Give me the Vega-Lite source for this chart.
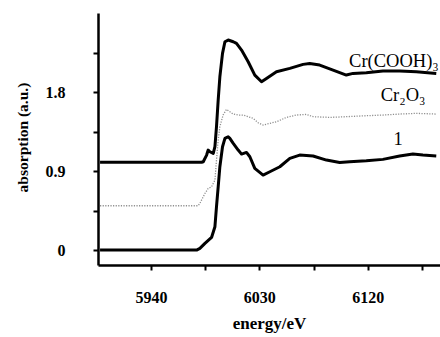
{
  "$schema": "https://vega.github.io/schema/vega-lite/v6.json",
  "width": 342,
  "height": 252,
  "autosize": {"type": "none"},
  "padding": {"left": 98, "top": 13, "right": 0, "bottom": 72},
  "background": "white",
  "config": {
    "view": {"stroke": null},
    "axis": {
      "grid": false,
      "domainColor": "black",
      "domainWidth": 2.5,
      "tickColor": "black",
      "tickWidth": 2,
      "tickSize": 5,
      "labelFont": "Liberation Serif",
      "labelFontWeight": "bold",
      "labelFontSize": 16,
      "labelColor": "black",
      "titleFont": "Liberation Serif",
      "titleFontWeight": "bold",
      "titleFontSize": 17,
      "titleColor": "black"
    }
  },
  "datasets": {
    "curves": [
      {"s": "one", "e": 5897.7, "a": 0.0},
      {"s": "one", "e": 5977.9, "a": 0.0},
      {"s": "one", "e": 5980.6, "a": 0.019},
      {"s": "one", "e": 5984.8, "a": 0.076},
      {"s": "one", "e": 5990.3, "a": 0.144},
      {"s": "one", "e": 5993.1, "a": 0.266},
      {"s": "one", "e": 5994.4, "a": 0.494},
      {"s": "one", "e": 5995.8, "a": 0.721},
      {"s": "one", "e": 5997.2, "a": 0.949},
      {"s": "one", "e": 5999.4, "a": 1.177},
      {"s": "one", "e": 6001.4, "a": 1.272},
      {"s": "one", "e": 6004.1, "a": 1.291},
      {"s": "one", "e": 6005.5, "a": 1.272},
      {"s": "one", "e": 6008.3, "a": 1.215},
      {"s": "one", "e": 6012.4, "a": 1.139},
      {"s": "one", "e": 6015.2, "a": 1.093},
      {"s": "one", "e": 6019.3, "a": 1.112},
      {"s": "one", "e": 6022.1, "a": 1.063},
      {"s": "one", "e": 6026.2, "a": 0.93},
      {"s": "one", "e": 6033.1, "a": 0.854},
      {"s": "one", "e": 6038.7, "a": 0.892},
      {"s": "one", "e": 6047.0, "a": 0.949},
      {"s": "one", "e": 6055.3, "a": 1.044},
      {"s": "one", "e": 6063.5, "a": 1.082},
      {"s": "one", "e": 6074.6, "a": 1.071},
      {"s": "one", "e": 6085.7, "a": 1.025},
      {"s": "one", "e": 6096.7, "a": 0.998},
      {"s": "one", "e": 6105.0, "a": 1.006},
      {"s": "one", "e": 6118.8, "a": 1.017},
      {"s": "one", "e": 6132.6, "a": 1.033},
      {"s": "one", "e": 6146.5, "a": 1.071},
      {"s": "one", "e": 6157.5, "a": 1.093},
      {"s": "one", "e": 6165.8, "a": 1.082},
      {"s": "one", "e": 6176.9, "a": 1.071},
      {"s": "cooh", "e": 5897.7, "a": 1.0},
      {"s": "cooh", "e": 5982.0, "a": 1.0},
      {"s": "cooh", "e": 5983.4, "a": 1.006},
      {"s": "cooh", "e": 5986.2, "a": 1.082},
      {"s": "cooh", "e": 5987.5, "a": 1.139},
      {"s": "cooh", "e": 5988.9, "a": 1.12},
      {"s": "cooh", "e": 5991.7, "a": 1.101},
      {"s": "cooh", "e": 5993.1, "a": 1.177},
      {"s": "cooh", "e": 5994.4, "a": 1.405},
      {"s": "cooh", "e": 5995.8, "a": 1.708},
      {"s": "cooh", "e": 5997.2, "a": 1.974},
      {"s": "cooh", "e": 5999.4, "a": 2.24},
      {"s": "cooh", "e": 6001.4, "a": 2.373},
      {"s": "cooh", "e": 6004.1, "a": 2.392},
      {"s": "cooh", "e": 6008.3, "a": 2.373},
      {"s": "cooh", "e": 6011.0, "a": 2.354},
      {"s": "cooh", "e": 6015.2, "a": 2.278},
      {"s": "cooh", "e": 6020.7, "a": 2.145},
      {"s": "cooh", "e": 6026.2, "a": 1.993},
      {"s": "cooh", "e": 6031.8, "a": 1.917},
      {"s": "cooh", "e": 6035.9, "a": 1.955},
      {"s": "cooh", "e": 6044.2, "a": 2.031},
      {"s": "cooh", "e": 6055.3, "a": 2.069},
      {"s": "cooh", "e": 6066.3, "a": 2.115},
      {"s": "cooh", "e": 6071.8, "a": 2.126},
      {"s": "cooh", "e": 6080.1, "a": 2.107},
      {"s": "cooh", "e": 6091.2, "a": 2.05},
      {"s": "cooh", "e": 6102.2, "a": 1.993},
      {"s": "cooh", "e": 6107.8, "a": 2.012},
      {"s": "cooh", "e": 6118.8, "a": 2.02},
      {"s": "cooh", "e": 6132.6, "a": 2.039},
      {"s": "cooh", "e": 6146.5, "a": 2.039},
      {"s": "cooh", "e": 6160.3, "a": 2.031},
      {"s": "cooh", "e": 6176.9, "a": 2.012},
      {"s": "oxide", "e": 5897.7, "a": 0.505},
      {"s": "oxide", "e": 5979.2, "a": 0.505},
      {"s": "oxide", "e": 5980.6, "a": 0.532},
      {"s": "oxide", "e": 5984.8, "a": 0.645},
      {"s": "oxide", "e": 5987.5, "a": 0.702},
      {"s": "oxide", "e": 5990.3, "a": 0.721},
      {"s": "oxide", "e": 5993.1, "a": 0.797},
      {"s": "oxide", "e": 5994.4, "a": 1.025},
      {"s": "oxide", "e": 5995.8, "a": 1.253},
      {"s": "oxide", "e": 5997.2, "a": 1.405},
      {"s": "oxide", "e": 5999.9, "a": 1.538},
      {"s": "oxide", "e": 6002.7, "a": 1.602},
      {"s": "oxide", "e": 6005.5, "a": 1.575},
      {"s": "oxide", "e": 6008.3, "a": 1.549},
      {"s": "oxide", "e": 6012.4, "a": 1.538},
      {"s": "oxide", "e": 6016.6, "a": 1.538},
      {"s": "oxide", "e": 6020.7, "a": 1.519},
      {"s": "oxide", "e": 6024.9, "a": 1.5},
      {"s": "oxide", "e": 6029.0, "a": 1.45},
      {"s": "oxide", "e": 6033.1, "a": 1.424},
      {"s": "oxide", "e": 6038.7, "a": 1.443},
      {"s": "oxide", "e": 6044.2, "a": 1.462},
      {"s": "oxide", "e": 6052.5, "a": 1.511},
      {"s": "oxide", "e": 6060.8, "a": 1.538},
      {"s": "oxide", "e": 6069.1, "a": 1.545},
      {"s": "oxide", "e": 6074.6, "a": 1.519},
      {"s": "oxide", "e": 6088.4, "a": 1.511},
      {"s": "oxide", "e": 6102.2, "a": 1.519},
      {"s": "oxide", "e": 6118.8, "a": 1.53},
      {"s": "oxide", "e": 6132.6, "a": 1.538},
      {"s": "oxide", "e": 6146.5, "a": 1.549},
      {"s": "oxide", "e": 6160.3, "a": 1.557},
      {"s": "oxide", "e": 6176.9, "a": 1.549}
    ],
    "labels": [
      {"t": "Cr(COOH)₃", "e": 6179, "a": 2.15},
      {"t": "Cr₂O₃", "e": 6168, "a": 1.77},
      {"t": "1", "e": 6149, "a": 1.27}
    ]
  },
  "encoding": {
    "x": {
      "field": "e", "type": "quantitative",
      "scale": {"domain": [5896, 6180], "nice": false, "zero": false},
      "axis": {
        "title": "energy/eV",
        "values": [5940, 5985, 6030, 6075, 6120, 6165],
        "labelExpr": "indexof([5940, 6030, 6120], datum.value) >= 0 ? datum.label : ''",
        "format": "d",
        "labelPadding": 19,
        "titlePadding": 10
      }
    },
    "y": {
      "field": "a", "type": "quantitative",
      "scale": {"domain": [-0.17, 2.7], "nice": false, "zero": false},
      "axis": {
        "title": "absorption (a.u.)",
        "titleFontSize": 15.5,
        "values": [0, 0.45, 0.9, 1.35, 1.8, 2.25],
        "format": ".2~f",
        "labelExpr": "indexof([0, 0.9, 1.8], datum.value) >= 0 ? datum.label : ''",
        "labelPadding": 28,
        "titleX": -76,
        "titleY": 124,
        "titleAngle": 270,
        "titleAlign": "center",
        "titleBaseline": "middle"
      }
    }
  },
  "layer": [
    {
      "data": {"name": "curves"},
      "transform": [{"filter": "datum.s == 'oxide'"}],
      "mark": {"type": "line", "color": "#8f8f8f", "strokeWidth": 1.3, "strokeDash": [1.2, 1.4]}
    },
    {
      "data": {"name": "curves"},
      "transform": [{"filter": "datum.s == 'cooh'"}],
      "mark": {"type": "line", "color": "black", "strokeWidth": 3, "strokeJoin": "round"}
    },
    {
      "data": {"name": "curves"},
      "transform": [{"filter": "datum.s == 'one'"}],
      "mark": {"type": "line", "color": "black", "strokeWidth": 3, "strokeJoin": "round"}
    },
    {
      "data": {"name": "labels"},
      "mark": {"type": "text", "align": "right", "baseline": "middle", "font": "Liberation Serif", "fontSize": 18.5, "color": "black"},
      "encoding": {
        "text": {"field": "t"}
      }
    }
  ]
}
